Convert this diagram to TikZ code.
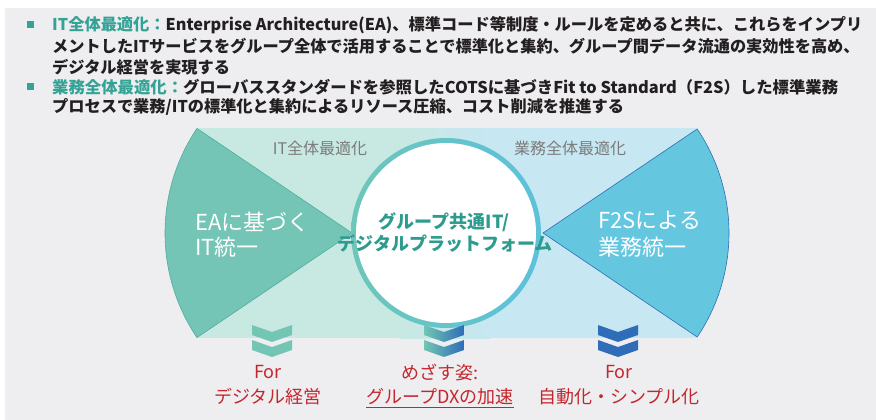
\documentclass[tikz,border=0pt]{standalone}
\usepackage{fontspec}
\usepackage{graphicx}
\setmainfont{Noto Sans CJK JP}
\definecolor{bggray}{HTML}{EEEEF0}
\definecolor{bandteal}{HTML}{C8E8E2}
\definecolor{bandblue}{HTML}{C7E7F2}
\definecolor{wedgeteal}{HTML}{74C5B5}
\definecolor{wedgetealline}{HTML}{4FAE9E}
\definecolor{wedgeblue}{HTML}{64C7DF}
\definecolor{wedgeblueline}{HTML}{2F6DB5}
\definecolor{ringteal}{HTML}{6DC6B9}
\definecolor{ringblue}{HTML}{5CC2DB}
\definecolor{chevteal}{HTML}{72C6B3}
\definecolor{chevblue}{HTML}{2F6DB9}
\definecolor{redtxt}{HTML}{C4262E}
\definecolor{graytxt}{HTML}{7B7B7B}
\definecolor{centertxt}{HTML}{2D9C8E}
\definecolor{labeltxt}{HTML}{34A396}
\definecolor{bodytxt}{HTML}{231F20}
\newcommand\dchev[2]{%
  \path[#2] (#1-20,-325) -- (#1,-332) -- (#1+20,-325) -- (#1+20,-335) -- (#1,-342) -- (#1-20,-335) -- cycle;
  \path[#2] (#1-20,-340) -- (#1,-347) -- (#1+20,-340) -- (#1+20,-350) -- (#1,-357) -- (#1-20,-350) -- cycle;}
\tikzset{
  toptxt/.style={anchor=west, inner sep=0pt, text=bodytxt, font=\fontsize{16.2}{16.2}\selectfont\bfseries},
  bandlbl/.style={inner sep=0pt, text=graytxt, font=\fontsize{16}{16}\selectfont},
  wedgetxt/.style={anchor=west, inner sep=0pt, text=white, font=\fontsize{22}{22}\selectfont},
  centxt/.style={inner sep=0pt, text=centertxt, font=\fontsize{18}{18}\selectfont\bfseries},
  redlbl/.style={inner sep=0pt, text=redtxt, font=\fontsize{18}{18}\selectfont},
}
\begin{document}
\begin{tikzpicture}[x=1pt,y=1pt]
\useasboundingbox (0,0) rectangle (876,-420);
\fill[white] (0,0) rectangle (876,-420);
\fill[bggray] (5,-8) rectangle (876,-420);
% bullets
\fill[labeltxt] (27,-21.5) rectangle (34,-28.5);
\fill[labeltxt] (27,-83.5) rectangle (34,-90.5);
% top text
\node[toptxt] (l1) at (52,-25) {\resizebox{810pt}{\height}{\textcolor{labeltxt}{IT全体最適化：}Enterprise Architecture(EA)、標準コード等制度・ルールを定めると共に、これらをインプリ}};
\node[toptxt] (l2) at (52,-46) {メントしたITサービスをグループ全体で活用することで標準化と集約、グループ間データ流通の実効性を高め、};
\node[toptxt] (l3) at (52,-67) {デジタル経営を実現する};
\node[toptxt] (l4) at (52,-87) {\resizebox{786pt}{\height}{\textcolor{labeltxt}{業務全体最適化：}グローバススタンダードを参照したCOTSに基づきFit to Standard（F2S）した標準業務}};
\node[toptxt] (l5) at (52,-107) {プロセスで業務/ITの標準化と集約によるリソース圧縮、コスト削減を推進する};
% band
\fill[bandteal] (197,-128) rectangle (400,-338);
\shade[left color=bandteal, right color=bandblue] (399.5,-128) rectangle (490.5,-338);
\fill[bandblue] (490,-128) rectangle (697,-338);
\node[bandlbl] (bl1) at (320,-148) {IT全体最適化};
\node[bandlbl] (bl2) at (570,-148) {業務全体最適化};
% wedges
\filldraw[fill=wedgeteal, draw=wedgetealline, line width=0.6pt] (352,-233) -- ++(146:187pt) arc[start angle=146, end angle=214, radius=187pt] -- cycle;
\filldraw[fill=wedgeblue, draw=wedgeblueline, line width=0.6pt] (543,-233) -- ++(34:186pt) arc[start angle=34, end angle=-34, radius=186pt] -- cycle;
\node[wedgetxt] (w1) at (195,-222) {EAに基づく};
\node[wedgetxt] (w2) at (195,-247) {IT統一};
\node[wedgetxt] (w3) at (598,-220) {F2Sによる};
\node[wedgetxt] (w4) at (598,-247) {業務統一};
% circle
\shade[left color=ringteal, right color=ringblue] (446,-233) circle (95pt);
\fill[white] (446,-233) circle (90pt);
\node[centxt] (c1) at (444,-222) {グループ共通IT/};
\node[centxt] (c2) at (445,-244) {デジタルプラットフォーム};
% chevrons
\dchev{272}{fill=chevteal}
\dchev{444}{left color=chevteal, right color=chevblue}
\dchev{618}{fill=chevblue}
% bottom labels
\node[redlbl] (f1) at (268,-372) {For};
\node[redlbl] (f2) at (268,-397) {デジタル経営};
\node[redlbl] (m1) at (440,-372) {めざす姿:};
\node[redlbl] (m2) at (440,-397) {グループDXの加速};
\draw[redtxt, line width=0.8pt] ([yshift=-4pt]m2.base west) -- ([yshift=-4pt]m2.base east);
\node[redlbl] (r1) at (619,-372) {For};
\node[redlbl] (r2) at (619,-397) {自動化・シンプル化};
\end{tikzpicture}
\end{document}
